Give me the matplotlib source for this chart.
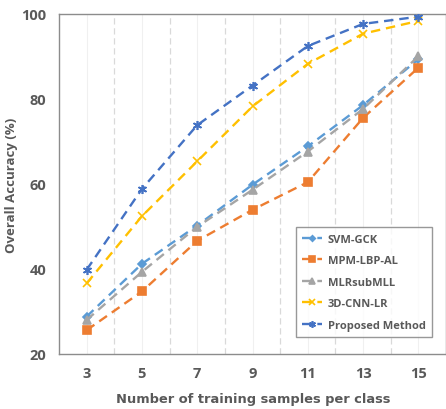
import matplotlib
matplotlib.use("Agg")
import matplotlib.pyplot as plt

# 資料
samples = [3, 5, 7, 9, 11, 13, 15]
svm_gck = [28.8, 41.2, 50.2, 59.8, 68.8, 78.5, 89.3]
mpm_lbp_al = [25.6, 34.7, 46.6, 53.9, 60.4, 75.5, 87.3]
mlr_sub_mll = [28.0, 39.3, 49.9, 58.6, 67.6, 77.6, 90.0]
cnn_3d_lr = [36.6, 52.4, 65.3, 78.2, 88.2, 95.3, 98.3]
proposed = [39.8, 58.8, 73.8, 83.1, 92.4, 97.6, 99.3]
yticks = [20, 40, 60, 80, 100]

plt.rcParams['font.family'] = ['Open Sans', 'DejaVu Sans']
text_color = "#595959"

fig = plt.figure(figsize=(4.46, 4.10), dpi=100)
ax_w, ax_h = 387, 340.3
ax = fig.add_axes([59 / 446, 55 / 410, ax_w / 446, ax_h / 410])

series = [
    ("SVM-GCK", svm_gck, "#5B9BD5", "D", 3.8),
    ("MPM-LBP-AL", mpm_lbp_al, "#ED7D31", "s", 5.5),
    ("MLRsubMLL", mlr_sub_mll, "#A5A5A5", "^", 5.5),
    ("3D-CNN-LR", cnn_3d_lr, "#FFC000", "x", 5.5),
    ("Proposed Method", proposed, "#4472C4", (6, 2, 0), 6.5),
]

# 網格線: 類別中心淡實線, 類別邊界虛線
for x in samples:
    ax.axvline(x, color="#F0F0F0", lw=0.8, zorder=0)
for x in range(4, 16, 2):
    ax.axvline(x, color="#D9D9D9", lw=0.9, ls=(0, (5, 3)), zorder=0)

for name, vals, color, marker, ms in series:
    ax.plot(samples, vals, color=color, lw=1.7, ls=(0, (4, 2.5)),
            marker=marker, markersize=ms, markeredgewidth=1.2,
            markerfacecolor=color, markeredgecolor=color, label=name, zorder=3)

ax.set_xlim(2, 16)
ax.set_ylim(20, 100)
ax.set_xticks(samples)
ax.set_yticks(yticks)
ax.tick_params(length=0, labelsize=10.5, colors=text_color, pad=9)
for lbl in ax.get_xticklabels() + ax.get_yticklabels():
    lbl.set_fontweight("bold")

for side in ["left", "bottom", "top", "right"]:
    ax.spines[side].set_color("#8C8C8C")
    ax.spines[side].set_linewidth(1.0)

ax.set_xlabel("Number of training samples per class", fontsize=9.4,
              fontweight="bold", color=text_color, family="DejaVu Sans")
ax.xaxis.set_label_coords((253 - 59) / ax_w, -(400 - 355) / ax_h)
ax.xaxis.label.set_va("center")
ax.set_ylabel("Overall Accuracy (%)", fontsize=9.5, fontweight="bold",
              color=text_color)
ax.yaxis.set_label_coords(-(59 - 12) / ax_w, (355 - 185) / ax_h)
ax.yaxis.label.set_va("center")

leg = ax.legend(loc="lower right",
                bbox_to_anchor=((438 - 59) / ax_w, (355 - 344) / ax_h),
                fontsize=8.0, frameon=True, fancybox=False, edgecolor="#7F7F7F",
                handlelength=1.8, labelspacing=0.95, borderpad=0.6,
                handletextpad=0.5, markerscale=0.75)
leg.get_frame().set_linewidth(1.0)
for t in leg.get_texts():
    t.set_color(text_color)
    t.set_fontweight("bold")

fig.savefig("out.png", dpi=100)
